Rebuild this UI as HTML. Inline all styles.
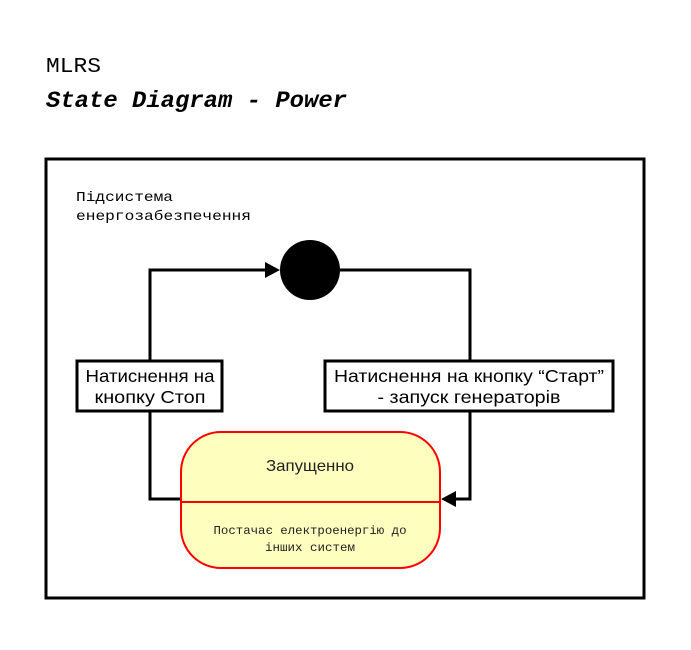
<!DOCTYPE html>
<html><head><style>
body{margin:0;background:#fff;width:691px;height:645px;overflow:hidden}
</style></head><body>
<svg width="691" height="645" xmlns="http://www.w3.org/2000/svg">
<text x="46" y="72" font-family="Liberation Mono, monospace" font-size="21" fill="#000" textLength="55" lengthAdjust="spacingAndGlyphs">MLRS</text>
<text x="46" y="107" font-family="Liberation Mono, monospace" font-size="23" font-weight="bold" font-style="italic" fill="#000" textLength="301" lengthAdjust="spacingAndGlyphs">State Diagram - Power</text>
<rect x="46" y="159" width="598" height="439" fill="#fff" stroke="#000" stroke-width="3"/>
<text font-family="Liberation Mono, DejaVu Sans Mono, monospace" font-size="14" fill="#000"><tspan x="76" y="201" textLength="97" lengthAdjust="spacingAndGlyphs">Підсистема</tspan><tspan x="76" y="220" textLength="175" lengthAdjust="spacingAndGlyphs">енергозабезпечення</tspan></text>
<polyline points="181,499 150,499 150,270 268,270" fill="none" stroke="#000" stroke-width="3"/>
<polygon points="280,270 265,262 265,278" fill="#000"/>
<polyline points="340,270 470,270 470,499 455,499" fill="none" stroke="#000" stroke-width="3"/>
<polygon points="441,499 456,491 456,507" fill="#000"/>
<circle cx="310" cy="270" r="30" fill="#000"/>
<rect x="77" y="361" width="145" height="50" fill="#fff" stroke="#000" stroke-width="3"/>
<text font-family="Liberation Sans, sans-serif" font-size="17.5" fill="#000" text-anchor="middle"><tspan x="150" y="382" textLength="129" lengthAdjust="spacingAndGlyphs">Натиснення на</tspan><tspan x="150" y="403" textLength="111" lengthAdjust="spacingAndGlyphs">кнопку Стоп</tspan></text>
<rect x="325" y="361" width="288" height="50" fill="#fff" stroke="#000" stroke-width="3"/>
<text font-family="Liberation Sans, sans-serif" font-size="17.5" fill="#000" text-anchor="middle"><tspan x="469" y="382" textLength="270" lengthAdjust="spacingAndGlyphs">Натиснення на кнопку “Старт”</tspan><tspan x="469" y="403" textLength="183" lengthAdjust="spacingAndGlyphs">- запуск генераторів</tspan></text>
<rect x="181" y="432" width="259" height="136" rx="40" fill="#fefebe" stroke="#f00" stroke-width="2"/>
<line x1="181" y1="502" x2="440" y2="502" stroke="#f00" stroke-width="2"/>
<text x="310" y="471" font-family="Liberation Sans, sans-serif" font-size="16" fill="#222" text-anchor="middle" textLength="88" lengthAdjust="spacingAndGlyphs">Запущенно</text>
<text font-family="Liberation Mono, monospace" font-size="12" fill="#222" text-anchor="middle"><tspan x="310" y="534" textLength="193" lengthAdjust="spacingAndGlyphs">Постачає електроенергію до</tspan><tspan x="310" y="551" textLength="90" lengthAdjust="spacingAndGlyphs">інших систем</tspan></text>
</svg>
</body></html>
